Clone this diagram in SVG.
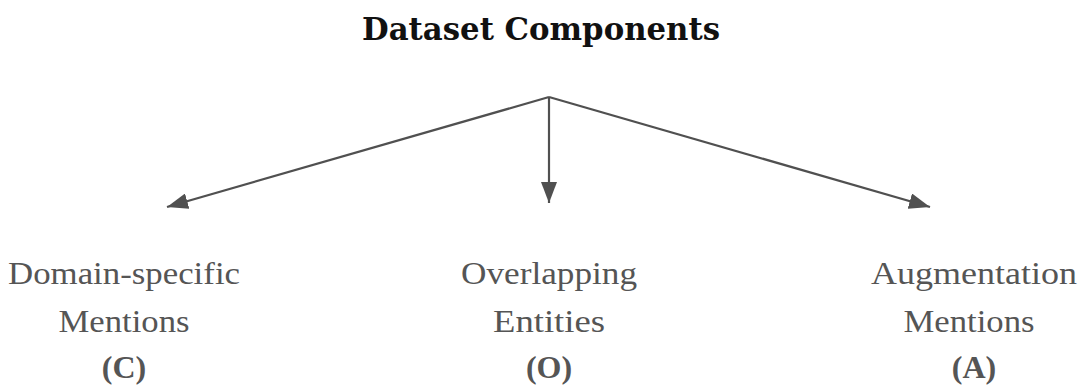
<svg xmlns="http://www.w3.org/2000/svg" width="1084" height="386" viewBox="0 0 1084 386">
<style>
.title{font-family:"DejaVu Serif","Liberation Serif",serif;font-weight:bold;font-size:31px;fill:#111;text-anchor:middle}
.lbl{font-family:"Liberation Serif",serif;font-size:32px;fill:#555;text-anchor:middle}
.tag{font-family:"Liberation Serif",serif;font-weight:bold;font-size:32px;fill:#555;text-anchor:middle}
.edge{stroke:#505050;stroke-width:2.2;fill:none}
</style>
<defs>
<marker id="ah" viewBox="0 0 21 16" refX="21" refY="8" markerWidth="21" markerHeight="16" markerUnits="userSpaceOnUse" orient="auto">
<path d="M0,0 L21,8 L0,16 Z" fill="#505050"/>
</marker>
</defs>
<rect width="1084" height="386" fill="#fff"/>
<g id="root"><text class="title" x="541" y="40" textLength="358" lengthAdjust="spacingAndGlyphs">Dataset Components</text></g>
<g id="connectors">
<line class="edge" x1="549" y1="97" x2="167" y2="207" marker-end="url(#ah)"/>
<line class="edge" x1="549" y1="97" x2="549" y2="203" marker-end="url(#ah)"/>
<line class="edge" x1="549" y1="97" x2="930" y2="207" marker-end="url(#ah)"/>
</g>
<g id="node-c">
<text class="lbl" x="124" y="284" textLength="232" lengthAdjust="spacingAndGlyphs">Domain-specific</text>
<text class="lbl" x="124" y="332" textLength="131" lengthAdjust="spacingAndGlyphs">Mentions</text>
<text class="tag" x="124" y="378">(C)</text>
</g>
<g id="node-o">
<text class="lbl" x="549" y="284" textLength="176" lengthAdjust="spacingAndGlyphs">Overlapping</text>
<text class="lbl" x="549" y="332" textLength="112" lengthAdjust="spacingAndGlyphs">Entities</text>
<text class="tag" x="549" y="378">(O)</text>
</g>
<g id="node-a">
<text class="lbl" x="974" y="284" textLength="206" lengthAdjust="spacingAndGlyphs">Augmentation</text>
<text class="lbl" x="969" y="332" textLength="131" lengthAdjust="spacingAndGlyphs">Mentions</text>
<text class="tag" x="974" y="378">(A)</text>
</g>
</svg>
